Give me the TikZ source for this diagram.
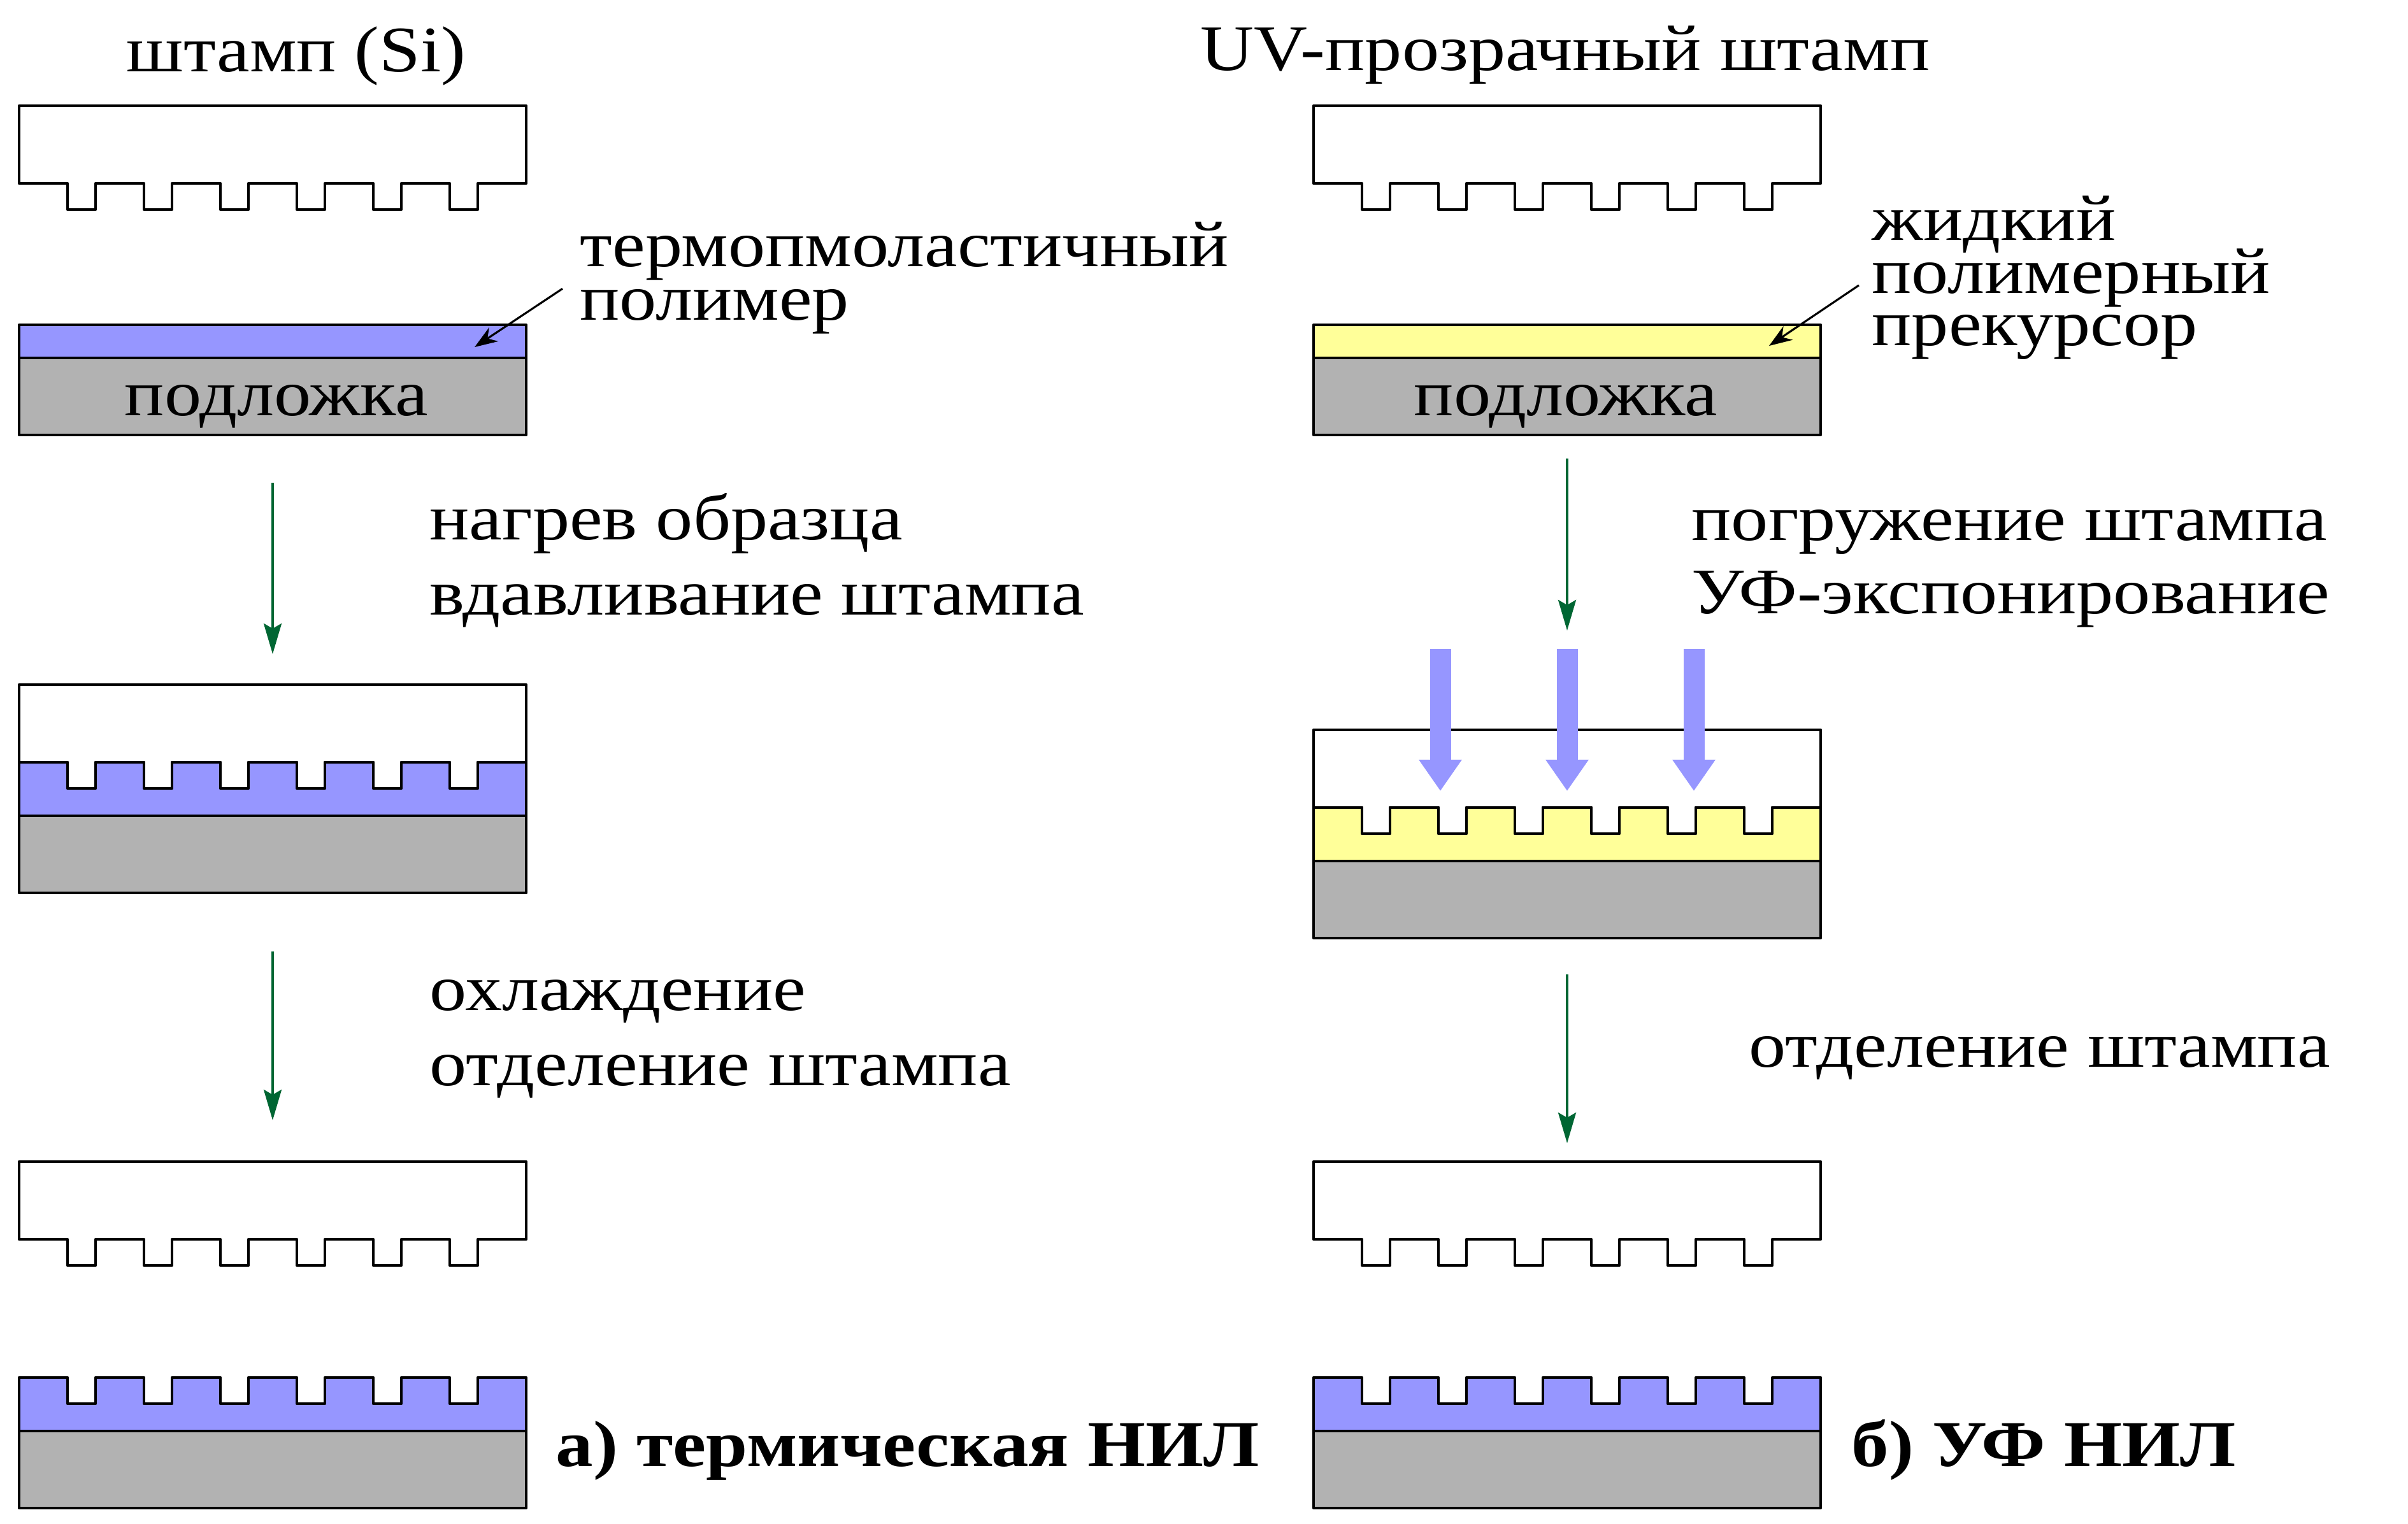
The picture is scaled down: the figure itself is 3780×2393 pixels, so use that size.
\documentclass[tikz,border=0pt]{standalone}
\usepackage{fontspec}
\setmainfont{Liberation Serif}[FakeStretch=1.14]
\usetikzlibrary{arrows.meta}

\definecolor{polyblue}{RGB}{150,150,255}
\definecolor{precyellow}{RGB}{255,255,153}
\definecolor{substgray}{RGB}{178,178,178}
\definecolor{arrowgreen}{RGB}{0,102,51}

\tikzstyle{outline} = [draw=black, line width=1.2pt, line join=round]
\tikzstyle{stampbody} = [outline, fill=white]
\tikzstyle{polymer} = [outline, fill=polyblue]
\tikzstyle{precursor} = [outline, fill=precyellow]
\tikzstyle{substrate} = [outline, fill=substgray]
\tikzstyle{txt} = [inner sep=0pt, anchor=base west, font=\fontsize{29}{34}\selectfont]
\tikzstyle{title} = [txt, anchor=base]
\tikzstyle{result} = [txt, font=\fontsize{29.2}{34}\selectfont\bfseries]
\tikzstyle{steparrow} = [draw=arrowgreen, line width=1.1pt, -{Stealth[length=0.48cm, width=0.28cm, inset=0.08cm]}]
\tikzstyle{pointer} = [line width=0.9pt, -{Stealth[length=0.36cm, width=0.26cm]}]
\tikzstyle{uvarrow} = [draw=polyblue, line width=0.33cm, -{Triangle[length=0.49cm, width=0.64cm]}]

% stamp relief: 6 teeth, 796 units wide
\newcommand{\tooth}{-- ++(76,0) -- ++(0,41) -- ++(44,0) -- ++(0,-41)}
\newcommand{\teeth}{\tooth\tooth\tooth\tooth\tooth\tooth -- ++(76,0)}
\newcommand{\stampat}[2]{\draw[stampbody] (#1,#2) \teeth -- ++(0,-122) -- ++(-796,0) -- cycle;}
\newcommand{\moldedlayer}[3]{\draw[#3] (#1,#2) \teeth -- ++(0,84) -- ++(-796,0) -- cycle;}
\newcommand{\filmat}[3]{\draw[#3] (#1,#2) rectangle ++(796,52);}
\newcommand{\wafer}[2]{\draw[substrate] (#1,#2) rectangle ++(796,121);}

\begin{document}
\begin{tikzpicture}[x=0.01cm, y=-0.01cm]
\useasboundingbox (0,0) rectangle (3780,2393);

% Left column: thermal NIL
\stampat{30}{288}
\filmat{30}{510}{polymer}
\wafer{30}{562}
\stampat{30}{1197}
\moldedlayer{30}{1197}{polymer}
\wafer{30}{1281}
\stampat{30}{1946}
\moldedlayer{30}{2163}{polymer}
\wafer{30}{2247}

% Right column: UV NIL
\stampat{2062}{288}
\filmat{2062}{510}{precursor}
\wafer{2062}{562}
\stampat{2062}{1268}
\moldedlayer{2062}{1268}{precursor}
\wafer{2062}{1352}
\stampat{2062}{1946}
\moldedlayer{2062}{2163}{polymer}
\wafer{2062}{2247}

% Nodes
\node (stampSi) [title] at (465,112) {штамп (Si)};
\node (stampUV) [title] at (2457,110) {UV-прозрачный штамп};
\node (subA) [title] at (434,652) {подложка};
\node (subB) [title] at (2458,652) {подложка};
\node (thermo1) [txt] at (910,418) {термопмоластичный};
\node (thermo2) [txt] at (910,502) {полимер};
\node (liquid1) [txt] at (2938,377) {жидкий};
\node (liquid2) [txt] at (2938,460) {полимерный};
\node (liquid3) [txt] at (2938,542) {прекурсор};
\node (heat) [txt] at (674,847) {нагрев образца};
\node (press) [txt] at (674,965) {вдавливание штампа};
\node (cool) [txt] at (674,1586) {охлаждение};
\node (releaseA) [txt] at (674,1704) {отделение штампа};
\node (immerse) [txt] at (2655,848) {погружение штампа};
\node (expose) [txt] at (2655,963) {УФ-экспонирование};
\node (releaseB) [txt] at (2745,1675) {отделение штампа};
\node (resA) [result] at (872,2302) {а) термическая НИЛ};
\node (resB) [result] at (2906,2302) {б) УФ НИЛ};

% Arrow ends
\coordinate (a1) at (428,758);
\coordinate (a2) at (428,1027);
\coordinate (a3) at (428,1494);
\coordinate (a4) at (428,1759);
\coordinate (b1) at (2460,720);
\coordinate (b2) at (2460,990);
\coordinate (b3) at (2460,1530);
\coordinate (b4) at (2460,1795);
\coordinate (filmA) at (745,545);
\coordinate (filmB) at (2777,543);
\coordinate (uv1) at (2261,1019);
\coordinate (uv1t) at (2261,1242);
\coordinate (uv2) at (2460,1019);
\coordinate (uv2t) at (2460,1242);
\coordinate (uv3) at (2659,1019);
\coordinate (uv3t) at (2659,1242);

% Arrows
\draw [steparrow] (a1) -- (a2);
\draw [steparrow] (a3) -- (a4);
\draw [steparrow] (b1) -- (b2);
\draw [steparrow] (b3) -- (b4);
\draw [uvarrow] (uv1) -- (uv1t);
\draw [uvarrow] (uv2) -- (uv2t);
\draw [uvarrow] (uv3) -- (uv3t);
\draw [pointer] ([xshift=-0.27cm]thermo2.north west) -- (filmA);
\draw [pointer] ([xshift=-0.2cm, yshift=-0.12cm]liquid2.west) -- (filmB);

\end{tikzpicture}
\end{document}
